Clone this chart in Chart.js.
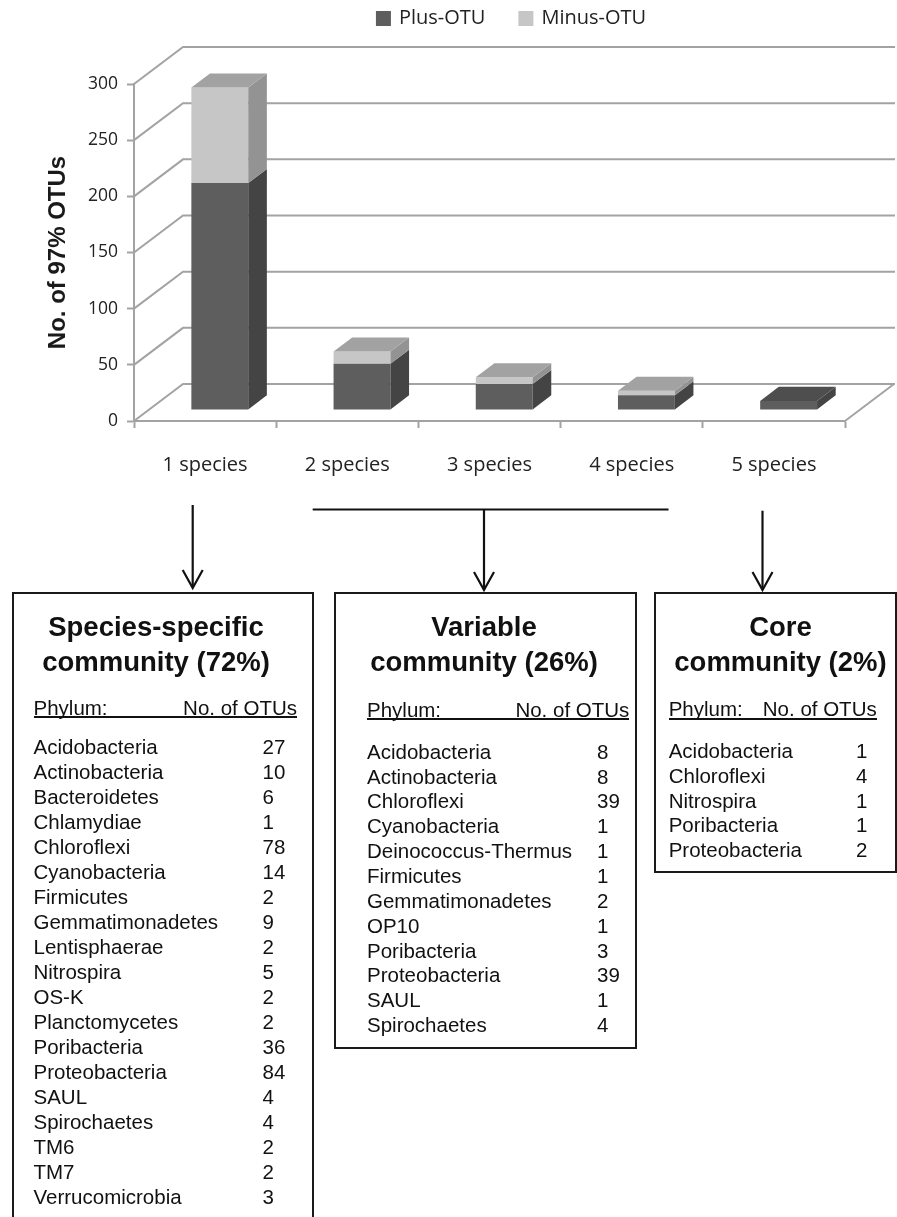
<!DOCTYPE html>
<html>
<head>
<meta charset="utf-8">
<script src="https://cdn.jsdelivr.net/npm/chart.js@4.4.1/dist/chart.umd.min.js"></script>
<style>
  body { margin: 0; background: #fff; }
  #page { position: relative; width: 897px; height: 1217px; overflow: hidden;
          font-family: "Liberation Sans", Arial, sans-serif; color: #111; }
  #chart { position: absolute; left: 0; top: 0; }
  #links { position: absolute; left: 0; top: 0; }
  .box { position: absolute; border: 2.4px solid #1a1a1a; box-sizing: border-box; }
  .title { position: absolute; font-weight: bold; font-size: 27.5px; line-height: 35px;
           text-align: center; white-space: nowrap; }
  .txt { position: absolute; font-size: 20.5px; line-height: 24px; white-space: nowrap; }
  .rule { position: absolute; height: 2px; background: #111; }
</style>
</head>
<body>
<div id="page">
  <canvas id="chart" width="897" height="490"></canvas>
  <svg id="links" width="897" height="1217"></svg>
</div>
<script>
// chart values
const categories = ['1 species', '2 species', '3 species', '4 species', '5 species'];
const seriesNames = ['Plus-OTU', 'Minus-OTU'];
const plusOTU = [202, 41, 23, 13, 8];
const minusOTU = [85, 11, 6, 4, 0];
const yMin = 0, yMax = 300, yStep = 50;

// community tables
const specificPhyla = ['Acidobacteria', 'Actinobacteria', 'Bacteroidetes', 'Chlamydiae', 'Chloroflexi',
  'Cyanobacteria', 'Firmicutes', 'Gemmatimonadetes', 'Lentisphaerae', 'Nitrospira', 'OS-K',
  'Planctomycetes', 'Poribacteria', 'Proteobacteria', 'SAUL', 'Spirochaetes', 'TM6', 'TM7', 'Verrucomicrobia'];
const specificOTUs = [27, 10, 6, 1, 78, 14, 2, 9, 2, 5, 2, 2, 36, 84, 4, 4, 2, 2, 3];
const variablePhyla = ['Acidobacteria', 'Actinobacteria', 'Chloroflexi', 'Cyanobacteria', 'Deinococcus-Thermus',
  'Firmicutes', 'Gemmatimonadetes', 'OP10', 'Poribacteria', 'Proteobacteria', 'SAUL', 'Spirochaetes'];
const variableOTUs = [8, 8, 39, 1, 1, 1, 2, 1, 3, 39, 1, 4];
const corePhyla = ['Acidobacteria', 'Chloroflexi', 'Nitrospira', 'Poribacteria', 'Proteobacteria'];
const coreOTUs = [1, 4, 1, 1, 2];

// 3D look: depth of the floor and where the bars sit inside it
const DEPTH_X = 49, DEPTH_Y = -37;
const BAR_OFF = 0.3, BAR_DEPTH = 0.38;
const LINE = '#a3a3a3';

const wall3d = {
  id: 'wall3d',
  beforeDatasetsDraw(chart) {
    const { ctx, scales: { x, y } } = chart;
    ctx.save();
    ctx.strokeStyle = LINE;
    ctx.lineWidth = 2;
    y.ticks.forEach(t => {
      const py = y.getPixelForValue(t.value);
      ctx.beginPath();
      ctx.moveTo(x.left, py);
      ctx.lineTo(x.left + DEPTH_X, py + DEPTH_Y);
      ctx.lineTo(chart.width - 2, py + DEPTH_Y);
      ctx.stroke();
    });
    const p0 = y.getPixelForValue(yMin);
    ctx.beginPath();
    ctx.moveTo(x.right, p0);
    ctx.lineTo(x.right + DEPTH_X, p0 + DEPTH_Y);
    ctx.stroke();
    ctx.restore();
    // push the bars back into the floor
    ctx.save();
    ctx.translate(DEPTH_X * BAR_OFF, DEPTH_Y * BAR_OFF);
  },
  afterDatasetsDraw(chart) {
    const ctx = chart.ctx;
    const dx = DEPTH_X * BAR_DEPTH, dy = DEPTH_Y * BAR_DEPTH;
    chart.data.labels.forEach((lab, j) => {
      let top = null;
      chart.data.datasets.forEach((ds, i) => {
        if (!ds.data[j]) return;
        const b = chart.getDatasetMeta(i).data[j].getProps(['x', 'y', 'base', 'width'], true);
        const r = b.x + b.width / 2;
        ctx.fillStyle = ds.sideColor;
        ctx.beginPath();
        ctx.moveTo(r, b.y);
        ctx.lineTo(r + dx, b.y + dy);
        ctx.lineTo(r + dx, b.base + dy);
        ctx.lineTo(r, b.base);
        ctx.closePath();
        ctx.fill();
        top = { b, ds };
      });
      if (top) {
        const b = top.b, l = b.x - b.width / 2, r = b.x + b.width / 2;
        ctx.fillStyle = top.ds.topColor;
        ctx.beginPath();
        ctx.moveTo(l, b.y);
        ctx.lineTo(l + dx, b.y + dy);
        ctx.lineTo(r + dx, b.y + dy);
        ctx.lineTo(r, b.y);
        ctx.closePath();
        ctx.fill();
      }
    });
    ctx.restore();
  },
  afterDraw(chart) {
    // legend, centred over the back wall
    const ctx = chart.ctx;
    ctx.save();
    ctx.font = '20px "Open Sans", sans-serif';
    const box = 15, gap = 8, between = 33;
    const items = chart.data.datasets.map(ds => ({ ds, w: box + gap + ctx.measureText(ds.label).width }));
    const total = items.reduce((s, it) => s + it.w, 0) + between * (items.length - 1);
    let xx = 511 - total / 2;
    const cy = 18.5;
    items.forEach(it => {
      ctx.fillStyle = it.ds.backgroundColor;
      ctx.fillRect(xx, cy - box / 2, box, box);
      ctx.fillStyle = '#222';
      ctx.textBaseline = 'middle';
      ctx.fillText(it.ds.label, xx + box + gap, cy);
      xx += it.w + between;
    });
    ctx.restore();
  }
};

new Chart(document.getElementById('chart'), {
  type: 'bar',
  data: {
    labels: categories,
    datasets: [
      { label: seriesNames[0], data: plusOTU, backgroundColor: '#5e5e5e',
        sideColor: '#444444', topColor: '#4e4e4e', borderWidth: 0, clip: false,
        categoryPercentage: 1, barPercentage: 0.4 },
      { label: seriesNames[1], data: minusOTU, backgroundColor: '#c5c6c5',
        sideColor: '#939393', topColor: '#a2a2a2', borderWidth: 0, clip: false,
        categoryPercentage: 1, barPercentage: 0.4 }
    ]
  },
  options: {
    responsive: false,
    animation: false,
    layout: { padding: { top: 84, right: 52, bottom: 0, left: 0 } },
    plugins: { legend: { display: false }, tooltip: { enabled: false } },
    scales: {
      x: {
        stacked: true,
        afterFit(s) { s.height = 69; },
        grid: { drawOnChartArea: false, drawTicks: true, tickLength: 7, tickColor: LINE, tickWidth: 2 },
        border: { display: true, color: LINE, width: 2 },
        ticks: { color: '#222', font: { family: '"Open Sans", sans-serif', size: 20 }, padding: 25 }
      },
      y: {
        stacked: true,
        min: yMin, max: yMax,
        afterFit(s) { s.width = 134; },
        grid: { drawOnChartArea: false, drawTicks: true, tickLength: 7, tickColor: LINE, tickWidth: 2 },
        border: { display: true, color: LINE, width: 2 },
        ticks: { stepSize: yStep, color: '#222', font: { family: '"Open Sans", sans-serif', size: 17.5 }, padding: 9 },
        title: { display: true, text: 'No. of 97% OTUs', color: '#1a1a1a',
                 font: { family: '"Liberation Sans", Arial, sans-serif', size: 24, weight: 'bold' },
                 padding: { top: 44, bottom: 0 } }
      }
    }
  },
  plugins: [wall3d]
});

// community panels
const panels = [
  { title: ['Species-specific', 'community (72%)'], phyla: specificPhyla, otus: specificOTUs,
    box: [11.6, 592, 302.4, 700], titleX: 156, headY: 708.3, ruleY: 715.7, nameX: 33.5, headR: 297,
    numX: 262.5, rowY: 746.7, rowStep: 25 },
  { title: ['Variable', 'community (26%)'], phyla: variablePhyla, otus: variableOTUs,
    box: [334, 592, 303.3, 457.3], titleX: 484, headY: 710.3, ruleY: 718.3, nameX: 367, headR: 629.3,
    numX: 597, rowY: 751.7, rowStep: 24.85 },
  { title: ['Core', 'community (2%)'], phyla: corePhyla, otus: coreOTUs,
    box: [654, 592, 243, 280.7], titleX: 780.5, headY: 709.3, ruleY: 718.3, nameX: 668.7, headR: 876.7,
    numX: 856, rowY: 750.7, rowStep: 24.9 }
];

const page = document.getElementById('page');
function add(cls, css, text) {
  const d = document.createElement('div');
  d.className = cls;
  Object.assign(d.style, css);
  if (text !== undefined) d.textContent = text;
  page.appendChild(d);
  return d;
}
panels.forEach(p => {
  add('box', { left: p.box[0] + 'px', top: p.box[1] + 'px', width: p.box[2] + 'px', height: p.box[3] + 'px' });
  add('title', { left: (p.titleX - 160) + 'px', width: '320px', top: '609.2px' }).innerHTML = p.title.join('<br>');
  add('txt', { left: p.nameX + 'px', top: (p.headY - 12) + 'px' }, 'Phylum:');
  add('txt', { right: (897 - p.headR) + 'px', top: (p.headY - 12) + 'px' }, 'No. of OTUs');
  add('rule', { left: p.nameX + 'px', width: (p.headR - p.nameX) + 'px', top: p.ruleY + 'px' });
  p.phyla.forEach((name, i) => {
    const cy = p.rowY + i * p.rowStep;
    add('txt', { left: p.nameX + 'px', top: (cy - 12) + 'px' }, name);
    add('txt', { left: p.numX + 'px', top: (cy - 12) + 'px' }, String(p.otus[i]));
  });
});

// connector lines and arrows
const svg = document.getElementById('links');
const ns = 'http://www.w3.org/2000/svg';
function path(d) {
  const el = document.createElementNS(ns, 'path');
  el.setAttribute('d', d);
  el.setAttribute('fill', 'none');
  el.setAttribute('stroke', '#111');
  el.setAttribute('stroke-width', '2.2');
  svg.appendChild(el);
}
function arrow(x, y1, y2) {
  path(`M${x} ${y1} L${x} ${y2}`);
  path(`M${x - 10} ${y2 - 18} L${x} ${y2} L${x + 10} ${y2 - 18}`);
}
path('M312.7 509.5 L668.5 509.5');
arrow(192.7, 505, 588);
arrow(484, 509.5, 590);
arrow(762.5, 510.7, 590);
</script>
</body>
</html>
